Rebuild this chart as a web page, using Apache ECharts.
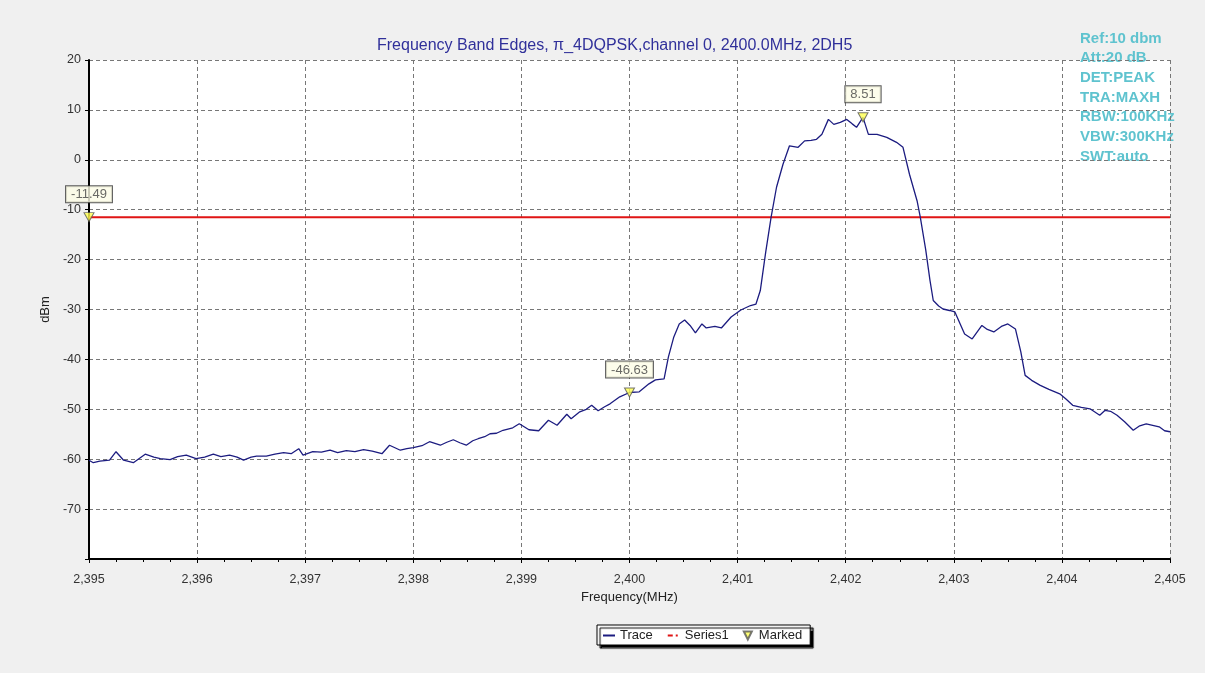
<!DOCTYPE html>
<html>
<head>
<meta charset="utf-8">
<title>Frequency Band Edges</title>
<script src="https://cdn.jsdelivr.net/npm/echarts@6/dist/echarts.min.js"></script>
<style>
  html, body { margin: 0; padding: 0; background: #f0f0f0; }
  #chart { width: 1205px; height: 673px; }
</style>
</head>
<body>
<div id="chart"></div>
<script>
// trace (MHz / dBm)
var traceFreq = [
  2395.00, 2395.04, 2395.10, 2395.19, 2395.25, 2395.32, 2395.41, 2395.52, 2395.60, 2395.66,
  2395.75, 2395.82, 2395.90, 2395.99, 2396.07, 2396.15, 2396.22, 2396.30, 2396.37, 2396.43,
  2396.50, 2396.55, 2396.64, 2396.72, 2396.80, 2396.87, 2396.94, 2396.98, 2397.07, 2397.15,
  2397.23, 2397.30, 2397.38, 2397.46, 2397.54, 2397.62, 2397.71, 2397.78, 2397.88, 2397.94,
  2398.00, 2398.08, 2398.15, 2398.25, 2398.31, 2398.37, 2398.43, 2398.49, 2398.55, 2398.60,
  2398.66, 2398.71, 2398.77, 2398.83, 2398.92, 2398.98, 2399.07, 2399.16, 2399.25, 2399.33,
  2399.42, 2399.46, 2399.54, 2399.60, 2399.65, 2399.71, 2399.77, 2399.82, 2399.91, 2400.00,
  2400.09, 2400.18, 2400.24, 2400.32, 2400.36, 2400.41, 2400.46, 2400.51, 2400.56, 2400.61,
  2400.67, 2400.71, 2400.79, 2400.85, 2400.94, 2401.03, 2401.12, 2401.17, 2401.21, 2401.26,
  2401.31, 2401.36, 2401.42, 2401.48, 2401.56, 2401.62, 2401.68, 2401.73, 2401.78, 2401.84,
  2401.89, 2401.95, 2402.01, 2402.06, 2402.10, 2402.16, 2402.21, 2402.29, 2402.38, 2402.47,
  2402.53, 2402.59, 2402.66, 2402.69, 2402.74, 2402.78, 2402.81, 2402.86, 2402.90, 2402.96,
  2403.01, 2403.10, 2403.17, 2403.26, 2403.31, 2403.37, 2403.44, 2403.50, 2403.57, 2403.62,
  2403.66, 2403.72, 2403.80, 2403.88, 2403.98, 2404.04, 2404.10, 2404.18, 2404.26, 2404.35,
  2404.40, 2404.45, 2404.51, 2404.58, 2404.66, 2404.72, 2404.78, 2404.84, 2404.90, 2404.95,
  2405.00
];
var traceLevel = [
  -60.2, -60.7, -60.4, -60.2, -58.5, -60.2, -60.7, -59.0, -59.6, -59.9,
  -60.1, -59.5, -59.2, -59.9, -59.6, -59.0, -59.5, -59.2, -59.6, -60.2,
  -59.6, -59.4, -59.4, -59.0, -58.7, -58.9, -57.9, -59.2, -58.5, -58.6,
  -58.2, -58.7, -58.3, -58.5, -58.1, -58.4, -58.9, -57.2, -58.2, -57.9,
  -57.7, -57.3, -56.5, -57.2, -56.6, -56.1, -56.7, -57.2, -56.3, -55.9,
  -55.5, -54.9, -54.8, -54.2, -53.7, -52.9, -54.1, -54.3, -52.2, -53.2,
  -51.0, -51.9, -50.5, -50.0, -49.2, -50.3, -49.5, -48.9, -47.5, -46.63,
  -46.5, -44.9, -44.1, -43.9, -39.5, -35.5, -32.9, -32.1, -33.2, -34.7,
  -32.9, -33.7, -33.4, -33.7, -31.5, -30.1, -29.2, -28.9, -26.2, -18.5,
  -11.5, -5.5, -0.9, 2.8, 2.5, 3.8, 3.9, 4.1, 5.1, 8.1,
  7.1, 7.5, 8.1, 7.2, 6.5, 8.51, 5.1, 5.1, 4.5, 3.5,
  2.5, -2.9, -8.2, -11.5, -18.0, -24.2, -28.2, -29.3, -29.9, -30.2,
  -30.5, -34.9, -35.9, -33.2, -34.0, -34.5, -33.4, -32.9, -33.9, -38.5,
  -43.2, -44.2, -45.2, -46.0, -46.9, -48.0, -49.2, -49.6, -49.9, -51.2,
  -50.2, -50.4, -51.2, -52.5, -54.2, -53.3, -52.9, -53.2, -53.5, -54.3,
  -54.5
];

// limit line (Series1)
var limitFreq = [2395, 2405];
var limitLevel = [-11.49, -11.49];

// marked points
var markFreq = [2395.0, 2400.0, 2402.16];
var markLevel = [-11.49, -46.63, 8.51];

var infoLines = ['Ref:10 dbm', 'Att:20 dB', 'DET:PEAK', 'TRA:MAXH', 'RBW:100KHz', 'VBW:300KHz', 'SWT:auto'];

var titleText = 'Frequency Band Edges, \u03c0_4DQPSK,channel 0, 2400.0MHz, 2DH5';

function zip(xs, ys) {
  return xs.map(function (x, i) { return [x, ys[i]]; });
}

var font = '"Liberation Sans", Arial, sans-serif';
var noSymbol = { color: 'rgba(0,0,0,0)', borderWidth: 0 };

var chart = echarts.init(document.getElementById('chart'));

var option = {
  backgroundColor: '#f0f0f0',
  animation: false,
  textStyle: { fontFamily: font },
  title: {
    text: titleText,
    left: 372,
    top: 33,
    textStyle: { fontSize: 16, fontWeight: 'normal', color: '#30309a', fontFamily: font }
  },
  grid: {
    left: 89,
    right: 35,
    top: 60,
    bottom: 114,
    show: true,
    backgroundColor: '#ffffff',
    borderWidth: 0
  },
  xAxis: {
    type: 'value',
    min: 2395,
    max: 2405,
    interval: 1,
    name: 'Frequency(MHz)',
    nameLocation: 'middle',
    nameGap: 29,
    nameTextStyle: { fontSize: 13, color: '#222' },
    axisLine: { onZero: false, lineStyle: { color: '#000', width: 2 } },
    axisTick: { length: 4, lineStyle: { color: '#000' } },
    minorTick: { show: true, splitNumber: 4, length: 3, lineStyle: { color: '#000' } },
    axisLabel: {
      fontSize: 12.5,
      color: '#333',
      margin: 14,
      formatter: function (v) {
        var s = String(Math.round(v));
        return s.slice(0, 1) + ',' + s.slice(1);
      }
    },
    splitLine: { show: true, lineStyle: { color: '#777', type: [4, 3], width: 1 } }
  },
  yAxis: {
    type: 'value',
    min: -80,
    max: 20,
    interval: 10,
    name: 'dBm',
    nameLocation: 'middle',
    nameGap: 37,
    nameTextStyle: { fontSize: 13, color: '#222' },
    axisLine: { onZero: false, lineStyle: { color: '#000', width: 2 } },
    axisTick: { length: 4, lineStyle: { color: '#000' } },
    axisLabel: {
      fontSize: 12.5,
      color: '#333',
      margin: 8,
      formatter: function (v) { return v === -80 ? '' : String(v); }
    },
    splitLine: { show: true, lineStyle: { color: '#777', type: [4, 3], width: 1 } }
  },
  legend: {
    left: 597,
    top: 625,
    padding: [4, 8, 3, 5],
    itemGap: 14,
    itemWidth: 12,
    itemHeight: 8,
    backgroundColor: '#ffffff',
    borderColor: '#000',
    borderWidth: 1,
    shadowColor: '#000',
    shadowOffsetX: 3,
    shadowOffsetY: 3,
    shadowBlur: 1,
    textStyle: { fontSize: 13, color: '#222', fontFamily: font },
    data: [
      { name: 'Trace', itemStyle: noSymbol },
      { name: 'Series1', itemStyle: noSymbol, lineStyle: { type: [5, 3, 2, 3], width: 2 } },
      { name: 'Marked', icon: 'path://M0,0L10,0L5,10Z' }
    ]
  },
  graphic: infoLines.map(function (t, i) {
    return {
      type: 'text',
      left: 1080,
      top: 31 + i * 19.7,
      style: { text: t, fill: '#5fc3cf', font: 'bold 15px ' + font }
    };
  }),
  series: [
    {
      name: 'Trace',
      type: 'line',
      data: zip(traceFreq, traceLevel),
      symbol: 'none',
      showSymbol: false,
      lineStyle: { color: '#1c1c80', width: 1.3 },
      itemStyle: { color: '#1c1c80' },
      z: 3
    },
    {
      name: 'Series1',
      type: 'line',
      data: zip(limitFreq, limitLevel),
      symbol: 'none',
      showSymbol: false,
      lineStyle: { color: '#e01515', width: 2 },
      itemStyle: { color: '#e01515' },
      z: 2
    },
    {
      name: 'Marked',
      type: 'scatter',
      data: zip(markFreq, markLevel),
      symbol: 'triangle',
      symbolRotate: 180,
      symbolSize: [10, 9],
      clip: false,
      itemStyle: { color: '#ffff50', borderColor: '#555', borderWidth: 1 },
      label: {
        show: true,
        position: 'top',
        distance: 10,
        formatter: function (p) { return p.value[1].toFixed(2); },
        backgroundColor: '#fdfde6',
        borderColor: '#333',
        borderWidth: 1,
        padding: [2, 5, 1, 5],
        color: '#444',
        fontSize: 13,
        fontFamily: font
      },
      z: 5
    }
  ]
};

chart.setOption(option);
</script>
</body>
</html>
